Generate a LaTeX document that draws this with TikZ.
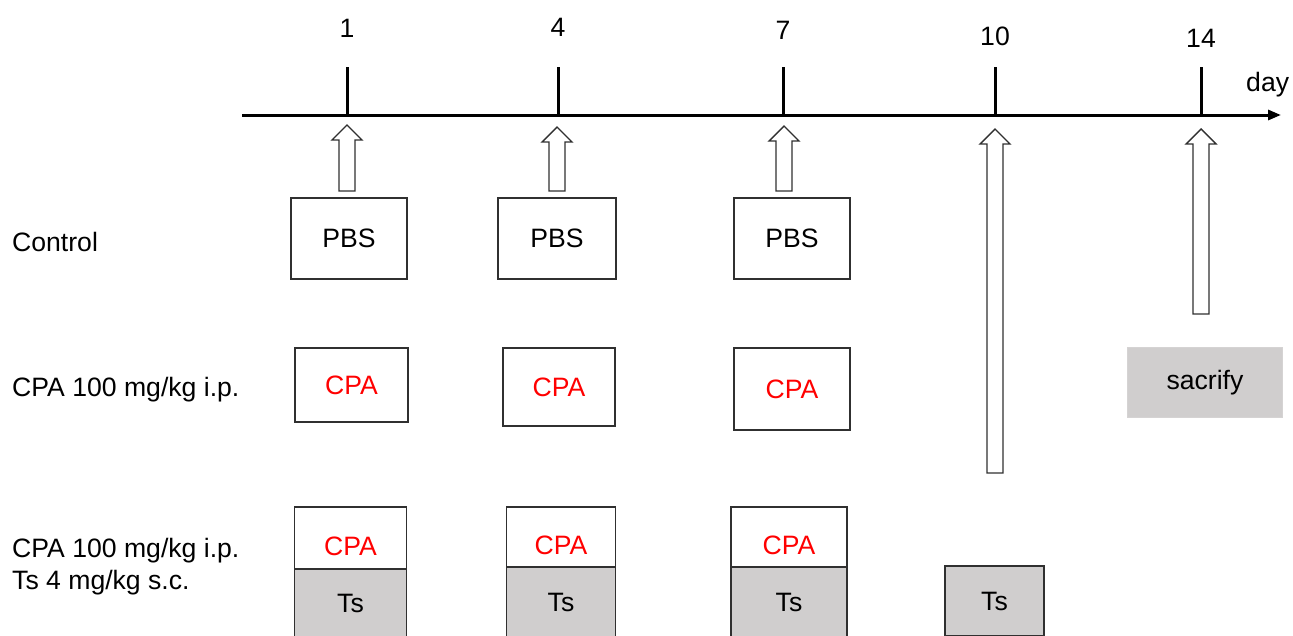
\documentclass[tikz,border=0pt]{standalone}
\usepackage{fontspec}
\setmainfont{Liberation Sans}
\usetikzlibrary{arrows.meta}
\definecolor{boxgray}{HTML}{D0CECE}
\definecolor{edgegray}{HTML}{303030}
\tikzset{
  txt/.style={font=\fontsize{26.6}{30}\selectfont, inner sep=0pt},
  tbox/.style={draw=edgegray, line width=1.3pt, inner sep=0pt, font=\fontsize{26.6}{30}\selectfont},
  graybox/.style={tbox, fill=boxgray},
  redtxt/.style={text=red},
  lowtext/.style={text height=35pt, text depth=0pt},
  tickline/.style={line width=3pt},
  blockarrow/.style={draw=edgegray, line width=1.4pt, fill=white, line join=miter},
}
\newcommand\blockarr[3]{%
  \draw[blockarrow] (#1-8,#3) -- (#1-8,#2+15) -- (#1-15,#2+15) -- (#1,#2) -- (#1+15,#2+15) -- (#1+8,#2+15) -- (#1+8,#3) -- cycle;}
\begin{document}
\begin{tikzpicture}[x=1pt,y=-1pt]
\useasboundingbox (0,0) rectangle (1293,635);
\clip (0,0) rectangle (1293,635);
% timeline
\coordinate (axstart) at (242,115);
\coordinate (axend) at (1281,115);
\draw[tickline, -{Triangle[length=13pt,width=10pt]}] (axstart) -- (axend);
\foreach \name/\x/\lab/\ly in {d1/347/1/37, d4/558/4/36, d7/783/7/39, d10/995/10/45, d14/1201/14/47}{
  \coordinate (\name) at (\x,115);
  \draw[tickline] (\name) -- (\x,67);
  \node[txt, anchor=base] (l\name) at (\x,\ly) {\lab};
}
\node[txt, anchor=base west] (daylab) at (1246,91) {day};
% block arrows
\blockarr{347}{125}{191}
\blockarr{557}{127}{191}
\blockarr{784}{126}{191}
\blockarr{995}{129}{473}
\blockarr{1201}{129}{314}
% group labels
\node[txt, anchor=base west] (g1) at (12,251) {Control};
\node[txt, anchor=base west] (g2) at (12,396) {CPA 100 mg/kg i.p.};
\node[txt, anchor=base west] (g3a) at (12,557) {CPA 100 mg/kg i.p.};
\node[txt, anchor=base west] (g3b) at (12,589) {Ts 4 mg/kg s.c.};
% row 1
\node[tbox, minimum width=116pt, minimum height=81pt] (p1) at (349,238.5) {PBS};
\node[tbox, minimum width=118pt, minimum height=81pt] (p2) at (557,238.5) {PBS};
\node[tbox, minimum width=116pt, minimum height=81pt] (p3) at (792,238.5) {PBS};
% row 2
\node[tbox, redtxt, minimum width=113pt, minimum height=74pt] (c1) at (351.5,385) {CPA};
\node[tbox, redtxt, minimum width=112pt, minimum height=78pt] (c2) at (559,387) {CPA};
\node[tbox, redtxt, minimum width=116pt, minimum height=82pt] (c3) at (792,389) {CPA};
\node[tbox, fill=boxgray, draw=boxgray!90!white, minimum width=155pt, minimum height=70pt] (sac) at (1205,382.5) {sacrify};
% row 3
\node[tbox, redtxt, lowtext, minimum width=112pt, minimum height=62pt] (cc1) at (350.5,538) {CPA};
\node[graybox, minimum width=112pt, minimum height=68pt] (t1) at (350.5,603) {Ts};
\node[tbox, redtxt, lowtext, minimum width=109pt, minimum height=60pt] (cc2) at (561,537) {CPA};
\node[graybox, minimum width=109pt, minimum height=70pt] (t2) at (561,602) {Ts};
\node[tbox, redtxt, lowtext, minimum width=116pt, minimum height=60pt] (cc3) at (789,537) {CPA};
\node[graybox, minimum width=116pt, minimum height=70pt] (t3) at (789,602) {Ts};
\node[graybox, minimum width=99pt, minimum height=70pt] (t4) at (994.5,601) {Ts};
\end{tikzpicture}
\end{document}
